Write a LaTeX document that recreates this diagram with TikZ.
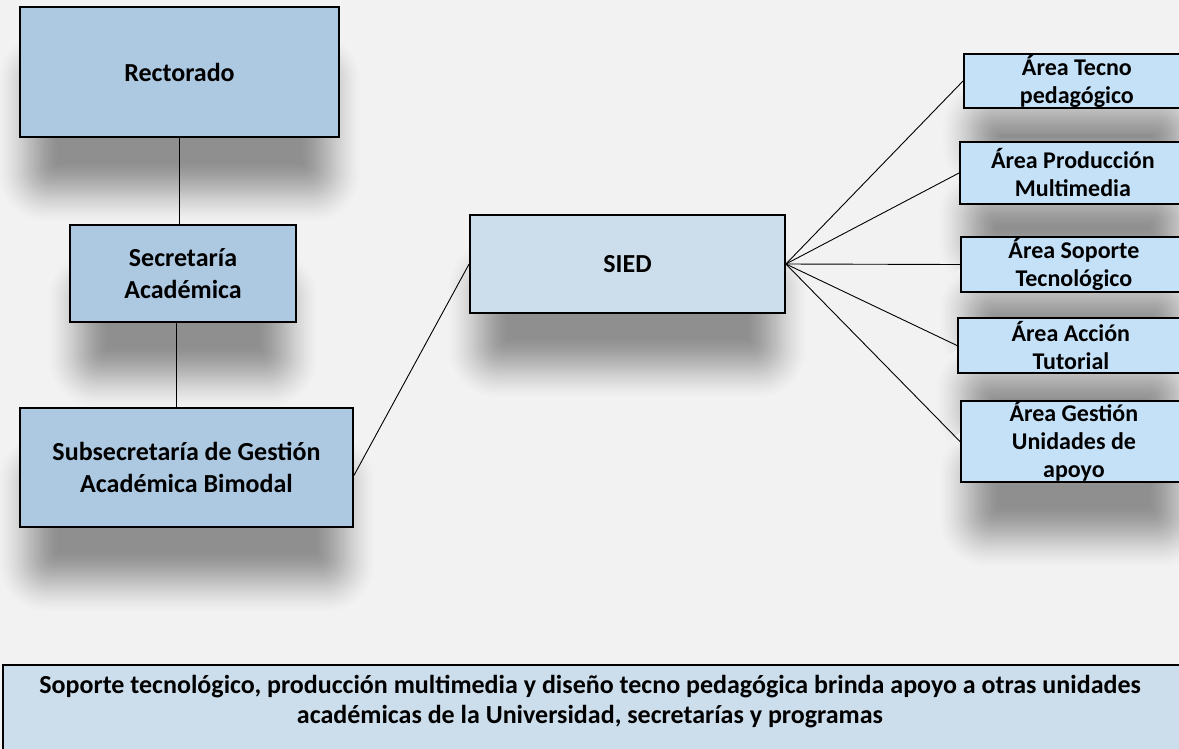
\documentclass[tikz,border=0pt]{standalone}
\usepackage{fontspec}
\setmainfont{Carlito}
\usepackage{tikz}
\usetikzlibrary{calc}

\definecolor{cajaazul}{RGB}{173,200,225}
\definecolor{siedazul}{RGB}{204,221,235}
\definecolor{areaazul}{RGB}{197,225,248}
\definecolor{fondo}{RGB}{242,242,242}

\pgfdeclarelayer{capafondo}
\pgfdeclarelayer{sombras}
\pgfsetlayers{capafondo,sombras,main}

% sombra difusa debajo de una caja (capas opacas de fondo a gris)
\newcommand{\sombra}[1]{%
	\foreach \i in {0,...,28}{
		\pgfmathsetmacro{\t}{\i/28}
		\pgfmathsetmacro{\e}{30-60*\t}
		\pgfmathsetmacro{\p}{41*(0.5*\t+0.5*(3*\t^2-2*\t^3))}
		\pgfmathsetmacro{\rc}{max(0.8*(\e+30),0.1)}
		\fill[black!\p!fondo, rounded corners=\rc pt]
			($(#1.north west)+(8-\e,55-\e)$) rectangle ($(#1.south east)+(-8+\e,55+\e)$);
	}}

\begin{document}
\begin{tikzpicture}[x=1pt,y=-1pt,
	unidad/.style={draw=black, line width=1.8pt, fill=cajaazul, align=center, inner sep=0pt,
		font=\fontsize{26}{31.7}\selectfont\bfseries},
	area/.style={unidad, fill=areaazul, anchor=west, minimum width=226pt,
		font=\fontsize{24}{28}\selectfont\bfseries},
	enlace/.style={draw=black, line width=0.9pt},
	nota/.style={draw=black, line width=1.8pt, fill=siedazul},
	notatexto/.style={align=center, font=\fontsize{26}{30}\selectfont\bfseries}]
	\begin{pgfonlayer}{capafondo}
		\fill[fondo] (0,0) rectangle (1179,748);
	\end{pgfonlayer}
	\useasboundingbox (0,0) rectangle (1179,748);
%izquierda
	\node[unidad, minimum width=319pt, minimum height=130pt] (rect) at (179.5,72) {Rectorado};
	\node[unidad, minimum width=226pt, minimum height=97pt] (sec) at (183,273.5) {Secretaría\\Académica};
	\node[unidad, minimum width=333pt, minimum height=119pt] (subs) at (186.5,467.5) {Subsecretaría de Gestión\\Académica Bimodal};
	\node[unidad, fill=siedazul, minimum width=315pt, minimum height=98pt] (sied) at (627.5,264) {SIED};
%areas
	\node[area, minimum height=54pt] (tecno) at (963,81) {Área Tecno\\pedagógico};
	\node[area, minimum height=62pt] (prod) at (959,173) {Área Producción\\Multimedia};
	\node[area, minimum height=55pt] (sop) at (960,264.5) {Área Soporte\\Tecnológico};
	\node[area, minimum height=55pt] (acc) at (957,345.5) {Área Acción\\Tutorial};
	\node[area, minimum height=81pt] (gest) at (960,441.5) {Área Gestión\\Unidades de\\apoyo};
%sombras
	\begin{pgfonlayer}{sombras}
		\sombra{rect}
		\sombra{sec}
		\sombra{subs}
		\sombra{sied}
		\sombra{tecno}
		\sombra{prod}
		\sombra{sop}
		\sombra{acc}
		\sombra{gest}
	\end{pgfonlayer}
%lineas
	\coordinate (secpie) at ([xshift=-7pt]sec.south);
	\draw[enlace] (rect.south) -- (rect.south |- sec.north);
	\draw[enlace] (secpie) -- (secpie |- subs.north);
	\draw[enlace] (sied.west) -- ([yshift=-8pt]subs.east);
	\draw[enlace] (sied.east) -- (tecno.west);
	\draw[enlace] (sied.east) -- (prod.west);
	\draw[enlace] (sied.east) -- (sop.west);
	\draw[enlace] (sied.east) -- (acc.west);
	\draw[enlace] (sied.east) -- (gest.west);
%abajo
	\draw[nota] (3,665) rectangle (1190,770);
	\node[notatexto] (nota) at (590,702) {Soporte tecnológico, producción multimedia y diseño tecno pedagógica brinda apoyo a otras unidades\\académicas de la Universidad, secretarías y programas};
\end{tikzpicture}
\end{document}
